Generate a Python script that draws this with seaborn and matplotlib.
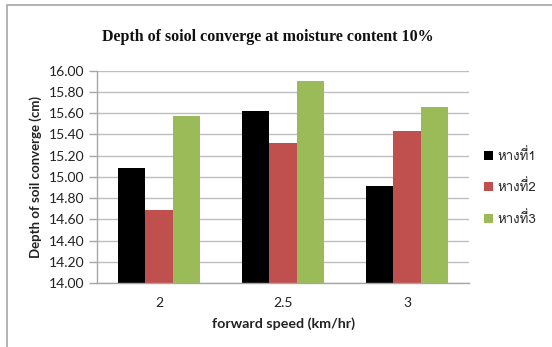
import matplotlib
matplotlib.use("Agg")
import matplotlib.pyplot as plt
from matplotlib import font_manager
from matplotlib.patches import Rectangle, Patch
import seaborn as sns
import pandas as pd

# Data
speeds = ["2", "2.5", "3"]
series_names = ["หางที่1", "หางที่2", "หางที่3"]
depth_1 = [15.08, 15.62, 14.91]
depth_2 = [14.69, 15.32, 15.43]
depth_3 = [15.57, 15.90, 15.66]
y_ticks = [14.00, 14.20, 14.40, 14.60, 14.80, 15.00, 15.20, 15.40, 15.60, 15.80, 16.00]
colors = ["#000000", "#C0504D", "#9BBB59"]

rows = []
for name, vals in zip(series_names, [depth_1, depth_2, depth_3]):
    for sp, v in zip(speeds, vals):
        rows.append({"speed": sp, "series": name, "depth": v})
df = pd.DataFrame(rows)

sns.set_theme(style="white")


def find_font_with(char):
    for f in font_manager.fontManager.ttflist:
        try:
            ft = matplotlib.ft2font.FT2Font(f.fname)
            if ord(char) in ft.get_charmap():
                return f.name
        except Exception:
            continue
    return None


thai_font = find_font_with("ห")
legend_family = [thai_font, "DejaVu Sans"] if thai_font else ["DejaVu Sans"]
label_family = ["Lato", "DejaVu Sans"]
plt.rcParams["font.family"] = label_family

fig = plt.figure(figsize=(5.52, 3.47), dpi=100)
fig.patch.set_facecolor("white")

# outer chart frame
fig.patches.append(Rectangle((7 / 552, -0.05), 1.1, 1 - 5 / 347 + 0.05,
                             transform=fig.transFigure, fill=False,
                             edgecolor="#A6A6A6", linewidth=1.2))

ax = fig.add_axes([97 / 552, 1 - 283 / 347, 372 / 552, (283 - 70.7) / 347])
sns.barplot(data=df, x="speed", y="depth", hue="series", order=speeds,
            hue_order=series_names, palette=colors, width=0.665, gap=0,
            saturation=1, errorbar=None, ax=ax, legend=False, linewidth=0)

ax.set_ylim(14.0, 16.0)
ax.set_yticks(y_ticks)
ax.set_yticklabels([f"{t:.2f}" for t in y_ticks], fontsize=10, color="#222222")
ax.set_xticks(range(len(speeds)))
ax.set_xticklabels(speeds, fontsize=10, color="#222222")
ax.yaxis.grid(True, color="#BEBEBE", linewidth=1.0)
ax.set_axisbelow(True)
for side in ["top", "right"]:
    ax.spines[side].set_visible(False)
for side in ["left", "bottom"]:
    ax.spines[side].set_color("#A6A6A6")
    ax.spines[side].set_linewidth(1.0)
ax.tick_params(axis="y", length=6, color="#A6A6A6", width=1.0, pad=3, left=True)
ax.tick_params(axis="x", length=0, pad=10)

ax.set_xlabel("forward speed (km/hr)", fontsize=10.3, fontweight="bold",
              color="#222222", labelpad=6)
ax.set_ylabel("Depth of soil converge (cm)", fontsize=9.5, fontweight="bold",
              color="#222222", labelpad=5)

fig.text(268 / 552, 1 - 37 / 347, "Depth of soiol converge at moisture content 10%",
         ha="center", va="center", fontsize=11.5, fontweight="bold",
         family=["Liberation Serif", "DejaVu Serif"], color="#111111")

handles = [Patch(facecolor=c, edgecolor="none") for c in colors]
fig.legend(handles, series_names, loc="center left",
           bbox_to_anchor=(472 / 552, 1 - 187 / 347), frameon=False,
           handlelength=0.65, handleheight=0.65, handletextpad=0.35,
           labelspacing=1.25, prop={"family": legend_family, "size": 9.6})

fig.savefig("out.png", dpi=100, facecolor="white")
